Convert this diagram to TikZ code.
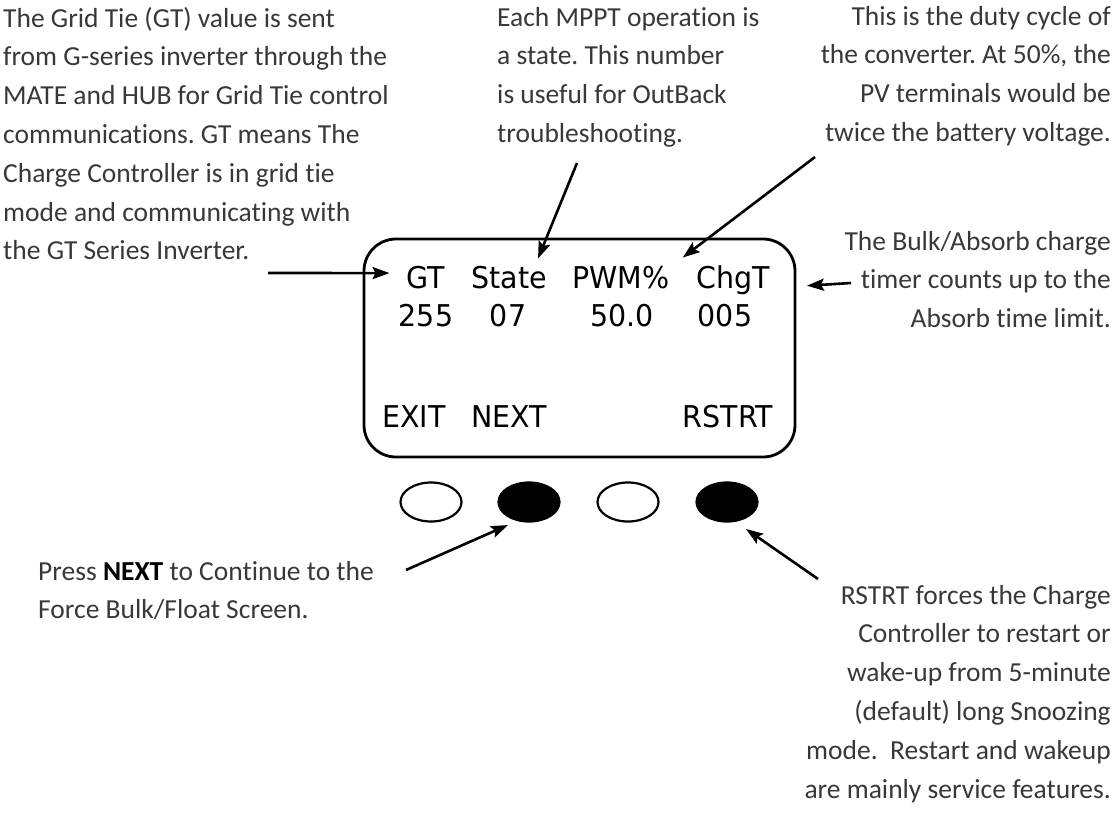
\documentclass[tikz,border=0pt]{standalone}
\usepackage{fontspec}
\setmainfont{Carlito}[Ligatures=NoCommon]
\newfontfamily\lcdfont{DejaVu Sans}[FakeStretch=0.95]
\usetikzlibrary{shapes.geometric,arrows.meta}
\frenchspacing

\begin{document}
\begin{tikzpicture}[x=1pt, y=-1pt,
    note/.style={inner sep=0pt, font=\fontsize{27.5}{38.8}\selectfont, text=black!78},
    key/.style={inner sep=0pt, anchor=base, font=\lcdfont\fontsize{30}{30}\selectfont},
    screen/.style={draw, line width=2.8pt, rounded corners=32pt, minimum width=431pt, minimum height=218pt},
    btn/.style={ellipse, draw, line width=2.2pt, minimum width=61pt, minimum height=39pt, inner sep=0pt},
    ptr/.style={-{Stealth[length=17pt,width=12pt,inset=3pt]}, line width=2.6pt}
]
\useasboundingbox (0,0) rectangle (1113,812);

% Screen
\node[screen] (lcd) at (579.5,348) {};
\node[key] (gt) at (426,288) {GT};
\node[key] (state) at (509,288) {State};
\node[key] (pwm) at (621,288) {PWM\%};
\node[key] (chgt) at (733,288) {ChgT};
\node[key] (gtval) at (426,326) {255};
\node[key] (stateval) at (508,326) {07};
\node[key] (pwmval) at (622,326) {50.0};
\node[key] (chgtval) at (725,326) {005};
\node[key] (exit) at (414,427) {EXIT};
\node[key] (next) at (509,427) {NEXT};
\node[key] (rstrt) at (728,427) {RSTRT};

% Buttons
\node[btn] (b1) at (431,502) {};
\node[btn, fill=black] (b2) at (529,502) {};
\node[btn] (b3) at (628,502) {};
\node[btn, fill=black] (b4) at (727,502) {};

% Notes
\node[note, anchor=north west, align=left] (gtnote) at (3,-0.2) {\strut The Grid Tie (GT) value is sent\\from G-series inverter through the\\MATE and HUB for Grid Tie control\\communications. GT means The\\Charge Controller is in grid tie\\mode and communicating with\\the GT Series Inverter.};
\node[note, anchor=north west, align=left] (statenote) at (497,-1.2) {\strut Each MPPT operation is\\a state. This number\\is useful for OutBack\\troubleshooting.};
\node[note, anchor=north east, align=right] (pwmnote) at (1111,-2.2) {\strut This is the duty cycle of\\the converter. At 50\%, the\\PV terminals would be\\twice the battery voltage.};
\node[note, anchor=north east, align=right] (chgnote) at (1111,222.8) {\strut The Bulk/Absorb charge\\timer counts up to the\\Absorb time limit.};
\node[note, anchor=north west, align=left] (nextnote) at (38,552.8) {\strut Press \textbf{\color{black}NEXT} to Continue to the\\Force Bulk/Float Screen.};
\node[note, anchor=north east, align=right] (rstnote) at (1111,576.8) {\strut RSTRT forces the Charge\\Controller to restart or\\wake-up from 5-minute\\(default) long Snoozing\\mode.\ \ Restart and wakeup\\are mainly service features.};

% Arrows
\coordinate (gttail) at (268,273);
\coordinate (statetail) at (577,163);
\coordinate (pwmtail) at (815,157);
\coordinate (chgtail) at (851,283);
\coordinate (nexttail) at (406,570);
\coordinate (rsttail) at (818,579);
\draw[ptr] (gttail) -- ([shift={(-17,-4)}]gt.west);
\draw[ptr] (statetail) -- ([shift={(29,-7)}]state.north);
\draw[ptr] (pwmtail) -- ([shift={(13,-8)}]pwm.north east);
\draw[ptr] (chgtail) -- ([shift={(37,6)}]chgt.east);
\draw[ptr] (nexttail) -- ([shift={(-21,23)}]b2.center);
\draw[ptr] (rsttail) -- ([shift={(19,27)}]b4.center);

\end{tikzpicture}
\end{document}
